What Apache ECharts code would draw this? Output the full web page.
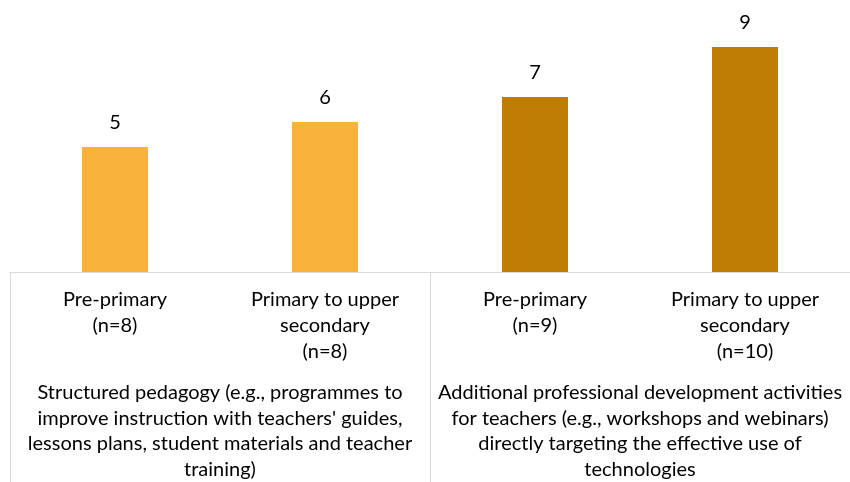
<!DOCTYPE html>
<html lang="en">
<head>
    <meta charset="UTF-8">
    <title>Bar chart</title>
    <script src="https://cdn.jsdelivr.net/npm/echarts@6/dist/echarts.min.js"></script>
    <style>
        html, body { margin: 0; padding: 0; background: #fff; }
    </style>
</head>
<body>
<div id="chart" style="width: 850px;height:482px;"></div>

<script type="text/javascript">
    // data
    var categories = [
        'Pre-primary\n(n=8)',
        'Primary to upper\nsecondary\n(n=8)',
        'Pre-primary\n(n=9)',
        'Primary to upper\nsecondary\n(n=10)'
    ];
    var groups = [
        "Structured pedagogy (e.g., programmes to\nimprove instruction with teachers' guides,\nlessons plans, student materials and teacher\ntraining)",
        'Additional professional development activities\nfor teachers (e.g., workshops and webinars)\ndirectly targeting the effective use of\ntechnologies'
    ];
    var values = [5, 6, 7, 9];
    var groupOfBar = [0, 0, 1, 1];
    var groupColors = ['#FAB23A', '#BF7C05'];

    var fontFamily = 'Lato, "Open Sans", sans-serif';
    var gridColor = '#D9D9D9';

    var chart = echarts.init(document.getElementById('chart'));
    var option = {
        backgroundColor: '#ffffff',
        animation: false,
        grid: {left: 10, width: 844, top: 22, bottom: 210},
        xAxis: [{
            type: 'category',
            data: categories,
            position: 'bottom',
            axisLine: {lineStyle: {color: gridColor, width: 1}},
            axisTick: {show: false},
            axisLabel: {
                interval: 0,
                margin: 15,
                color: '#000',
                fontSize: 20,
                lineHeight: 26,
                fontFamily: fontFamily,
                verticalAlign: 'top'
            }
        }, {
            type: 'category',
            data: groups,
            position: 'bottom',
            axisLine: {show: false},
            axisTick: {show: true, length: 220, lineStyle: {color: gridColor, width: 1}},
            axisLabel: {
                interval: 0,
                margin: 108,
                color: '#000',
                fontSize: 20,
                lineHeight: 25.5,
                fontFamily: fontFamily,
                verticalAlign: 'top'
            }
        }],
        yAxis: {
            type: 'value',
            min: 0,
            max: 10,
            show: false,
            splitLine: {show: false}
        },
        series: [{
            type: 'bar',
            xAxisIndex: 0,
            barWidth: 66,
            data: values,
            itemStyle: {
                color: function (p) {
                    return groupColors[groupOfBar[p.dataIndex]];
                }
            },
            label: {
                show: true,
                position: 'top',
                distance: 14,
                color: '#000',
                fontSize: 20,
                fontFamily: fontFamily
            }
        }]
    };
    chart.setOption(option);
</script>
</body>
</html>
